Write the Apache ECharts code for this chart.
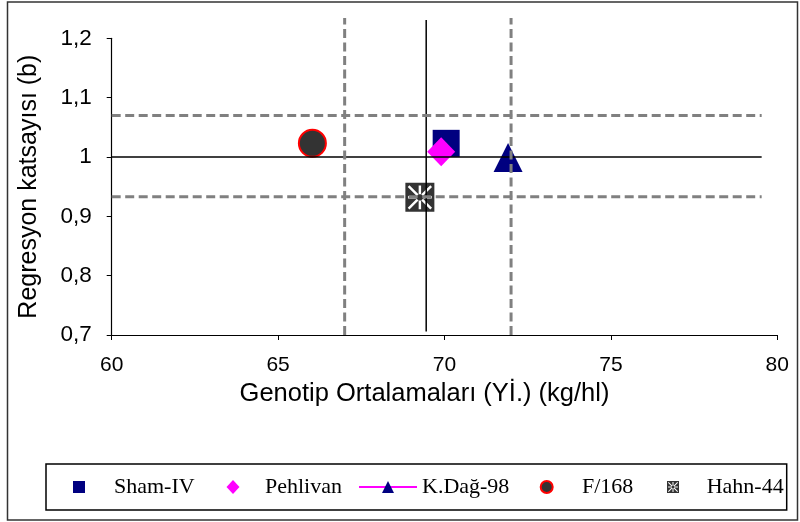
<!DOCTYPE html>
<html>
<head>
<meta charset="utf-8">
<script src="https://cdn.jsdelivr.net/npm/echarts@6/dist/echarts.min.js"></script>
<style>
  html, body { margin: 0; padding: 0; background: #fff; }
  #chart { width: 800px; height: 522px; }
</style>
</head>
<body>
<div id="chart"></div>
<script>
// genotypes and their values
const genotypes = ['Sham-IV', 'Pehlivan', 'K.Dağ-98', 'F/168', 'Hahn-44']
const yieldMeans = [70.05, 69.9, 71.91, 66.03, 69.26]   // Genotip ortalamaları (kg/hl)
const regCoef = [1.023, 1.009, 0.999, 1.023, 0.932]     // regresyon katsayısı b

// reference lines
const meanX = 69.45                 // genel ortalama
const meanXRange = [0.706, 1.231]
const dashX = [67.0, 72.0]          // ortalama ± sınır
const dashXRange = [0.7, 1.234]
const meanB = 1.0
const dashB = [1.07, 0.933]
const hLineRange = [60, 79.53]

const xTicks = [60, 80, 5]          // min, max, interval
const yTicks = [0.7, 1.2, 0.1]

const sansFont = 'Liberation Sans, Arial, sans-serif'
const serifFont = 'Liberation Serif, Times New Roman, serif'

// dark square with a white star cut out (Hahn-44 marker)
function starBoxPath () {
  let d = 'M0,0L10,0L10,10L0,10Z'
  for (let k = 0; k < 8; k++) {
    const a = k * Math.PI / 4
    const dx = Math.cos(a)
    const dy = Math.sin(a)
    const nx = -dy
    const ny = dx
    const r1 = 1.1
    const r2 = k % 2 ? 5.5 : 4.1
    const w = 0.42
    let pts = [
      [5 + r1 * dx + w * nx, 5 + r1 * dy + w * ny],
      [5 + r2 * dx + w * nx, 5 + r2 * dy + w * ny],
      [5 + r2 * dx - w * nx, 5 + r2 * dy - w * ny],
      [5 + r1 * dx - w * nx, 5 + r1 * dy - w * ny]
    ]
    let area = 0
    for (let i = 0; i < 4; i++) {
      const p = pts[i]
      const q = pts[(i + 1) % 4]
      area += p[0] * q[1] - q[0] * p[1]
    }
    if (area > 0) pts = pts.reverse() // opposite winding -> hole
    d += 'M' + pts.map(p => p[0].toFixed(3) + ',' + p[1].toFixed(3)).join('L') + 'Z'
  }
  return 'path://' + d
}
const starBox = starBoxPath()

const markerStyles = [
  { symbol: 'rect', symbolSize: 27, itemStyle: { color: '#000080', opacity: 1 } },
  { symbol: 'diamond', symbolSize: [28, 29], itemStyle: { color: '#FF00FF', opacity: 1 } },
  { symbol: 'triangle', symbolSize: [29, 29], itemStyle: { color: '#000080', opacity: 1 } },
  { symbol: 'circle', symbolSize: 27, itemStyle: { color: '#333333', borderColor: '#FF0000', borderWidth: 2, opacity: 1 } },
  { symbol: starBox, symbolSize: 29, itemStyle: { color: '#333333', opacity: 1 } }
]

const pointSeries = genotypes.map((name, i) => {
  const s = Object.assign({
    name: name,
    type: 'scatter',
    data: [[yieldMeans[i], regCoef[i]]],
    z: 2
  }, markerStyles[i])
  if (name === 'K.Dağ-98') {
    s.type = 'line'
    s.showSymbol = true
    s.lineStyle = { color: '#FF00FF', width: 1.5 }
  }
  return s
})

function refLine (points, color, width, dashed) {
  return {
    type: 'line',
    data: points,
    symbol: 'none',
    silent: true,
    clip: false,
    z: 3,
    lineStyle: { color: color, width: width, type: dashed ? [9, 4.5] : 'solid' }
  }
}

const lineSeries = [
  refLine([[meanX, meanXRange[0]], [meanX, meanXRange[1]]], '#000', 1.5, false),
  refLine([[hLineRange[0], meanB], [hLineRange[1], meanB]], '#000', 1.5, false)
]
dashX.forEach(x => {
  lineSeries.push(refLine([[x, dashXRange[0]], [x, dashXRange[1]]], '#808080', 3, true))
})
dashB.forEach(y => {
  lineSeries.push(refLine([[hLineRange[0], y], [hLineRange[1], y]], '#808080', 3, true))
})

// one legend per entry so each sits where Excel put it
const legendIcons = ['rect', 'diamond', null, 'circle', starBox]
const legendIconX = [79, 233, 390, 545.7, 673]     // icon centre
const legendTextX = [114, 265, 421, 581, 706.7]     // text start
const legendIconH = [12, 14, 15, 12, 12]
const legends = genotypes.map((name, i) => {
  const h = legendIconH[i]
  const lg = {
    data: [legendIcons[i] ? { name: name, icon: legendIcons[i] } : name],
    top: 487 - Math.max(h, 22) / 2,
    padding: 0,
    itemHeight: h,
    selectedMode: false,
    textStyle: { fontFamily: serifFont, fontSize: 22, color: '#000', lineHeight: 22 }
  }
  if (legendIcons[i]) {
    lg.itemWidth = i === 1 ? 13 : 12
    lg.left = legendIconX[i] - lg.itemWidth / 2
    lg.textStyle.padding = [0, 0, 0, legendTextX[i] - (legendIconX[i] + lg.itemWidth / 2 + 5)]
  } else {
    lg.itemWidth = 58
    lg.left = legendTextX[i] - 63
  }
  return lg
})

const mychart = echarts.init(document.getElementById('chart'))
mychart.setOption({
  animation: false,
  backgroundColor: '#fff',
  grid: {
    left: 111.7,
    right: 22.7,
    top: 38.3,
    bottom: 187
  },
  legend: legends,
  xAxis: {
    type: 'value',
    min: xTicks[0],
    max: xTicks[1],
    interval: xTicks[2],
    name: 'Genotip Ortalamaları (Yİ.) (kg/hl)',
    nameLocation: 'middle',
    nameGap: 43,
    nameTextStyle: { fontFamily: sansFont, fontSize: 25.5, color: '#000', padding: [0, 40, 0, 0] },
    axisLine: { lineStyle: { color: '#000', width: 1.2 } },
    axisTick: { show: true, length: 5, lineStyle: { color: '#000' } },
    axisLabel: { fontFamily: sansFont, fontSize: 21, color: '#000', margin: 20 },
    splitLine: { show: false }
  },
  yAxis: {
    type: 'value',
    min: yTicks[0],
    max: yTicks[1],
    interval: yTicks[2],
    name: 'Regresyon katsayısı (b)',
    nameLocation: 'middle',
    nameGap: 70,
    nameTextStyle: { fontFamily: sansFont, fontSize: 25, color: '#000' },
    axisLine: { show: true, lineStyle: { color: '#000', width: 1.2 } },
    axisTick: { show: true, length: 5, lineStyle: { color: '#000' } },
    axisLabel: {
      fontFamily: sansFont,
      fontSize: 22.5,
      color: '#000',
      margin: 20,
      formatter: v => String(+v.toFixed(2)).replace('.', ',')
    },
    splitLine: { show: false }
  },
  graphic: [{
    type: 'rect',
    shape: { x: 46, y: 464, width: 740.7, height: 46 },
    style: { fill: 'none', stroke: '#000', lineWidth: 1.5 },
    silent: true,
    z: 10
  }, {
    type: 'rect',
    shape: { x: 7.5, y: 2, width: 790, height: 518 },
    style: { fill: 'none', stroke: '#333', lineWidth: 1.5 },
    silent: true,
    z: 10
  }],
  series: pointSeries.concat(lineSeries)
})
</script>
</body>
</html>
